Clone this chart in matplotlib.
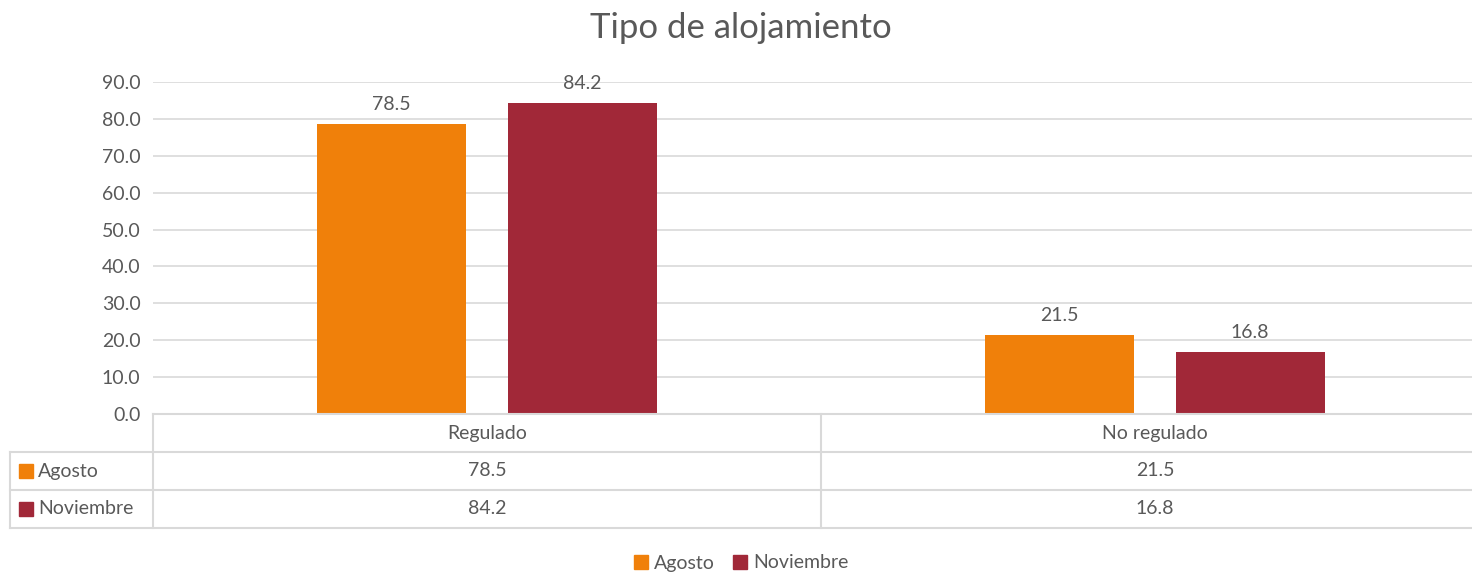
import matplotlib.pyplot as plt
import numpy as np
from matplotlib.patches import Patch

categories = ['Regulado', 'No regulado']
series = ['Agosto', 'Noviembre']
agosto = [78.5, 21.5]
noviembre = [84.2, 16.8]
yticks = [0, 10, 20, 30, 40, 50, 60, 70, 80, 90]

colors = ['#F0800A', '#A12838']
grid_c = '#D9D9D9'
txt_c = '#595959'

plt.rcParams['font.family'] = ['Lato', 'DejaVu Sans']

W, H = 1472, 574
fig = plt.figure(figsize=(W / 100, H / 100), dpi=100)

# plot area in pixels (right side runs past the picture edge, as in the source)
left, right, top, bottom = 153, 1489, 82, 414
ax = fig.add_axes([left / W, 1 - bottom / H, (right - left) / W, (bottom - top) / H])

x = np.arange(len(categories))
width = 0.223
offset = 0.1425
values = [agosto, noviembre]
for k, vals in enumerate(values):
    pos = x + (k * 2 - 1) * offset
    bars = ax.bar(pos, vals, width, color=colors[k], zorder=3)
    for b, v in zip(bars, vals):
        ax.annotate(f'{v:.1f}', (b.get_x() + b.get_width() / 2, v),
                    xytext=(0, 8), textcoords='offset points',
                    ha='center', va='bottom', fontsize=14, color=txt_c)

ax.set_xlim(-0.5, len(categories) - 0.5)
ax.set_ylim(0, 90)
ax.set_yticks(yticks)
ax.set_yticklabels([f'{t:.1f}' for t in yticks], fontsize=14, color=txt_c)
ax.set_xticks([])
ax.tick_params(axis='y', length=0, pad=9)
ax.grid(axis='y', color=grid_c, linewidth=1.2, zorder=0)
for s in ax.spines.values():
    s.set_visible(False)

fig.text(741 / W, 1 - 28 / H, 'Tipo de alojamiento', ha='center', va='center',
         fontsize=25, color=txt_c)

# data table below the plot
row_h = 38
tab_top = bottom
tab_bot = bottom + 3 * row_h
tab = fig.add_axes([left / W, 1 - tab_bot / H, (right - left) / W, (tab_bot - tab_top) / H])
tab.set_xlim(-0.5, len(categories) - 0.5)
tab.set_ylim(3, 0)
tab.axis('off')
px = (len(categories)) / (right - left)
lab_x0 = -0.5 - (left - 10) * px

kw = dict(color=grid_c, linewidth=1.5, clip_on=False)
tab.plot([-0.5, len(categories) - 0.5], [0, 0], **kw)
for r in [1, 2, 3]:
    tab.plot([lab_x0, len(categories) - 0.5], [r, r], **kw)
tab.plot([lab_x0, lab_x0], [1, 3], **kw)
for c in range(len(categories)):
    tab.plot([c - 0.5, c - 0.5], [0, 3], **kw)

for c, cat in enumerate(categories):
    tab.text(c, 0.5, cat, ha='center', va='center', fontsize=14, color=txt_c)
for r, (name, vals) in enumerate(zip(series, values)):
    tab.text(lab_x0 + 28 * px, r + 1.5, name, ha='left', va='center', fontsize=14, color=txt_c)
    tab.add_patch(plt.Rectangle((lab_x0 + 9 * px, r + 1.5 - 0.19), 14 * px, 0.38,
                                color=colors[r], clip_on=False))
    for c, v in enumerate(vals):
        tab.text(c, r + 1.5, f'{v:.1f}', ha='center', va='center', fontsize=14, color=txt_c)

handles = [Patch(color=colors[k], label=series[k]) for k in range(len(series))]
fig.legend(handles=handles, loc='center', bbox_to_anchor=(741 / W, 1 - 563 / H), ncol=2,
           frameon=False, fontsize=14, handlelength=0.75, handleheight=0.75,
           handletextpad=0.3, columnspacing=0.9, labelcolor=txt_c)

fig.savefig('out.png', dpi=100)
